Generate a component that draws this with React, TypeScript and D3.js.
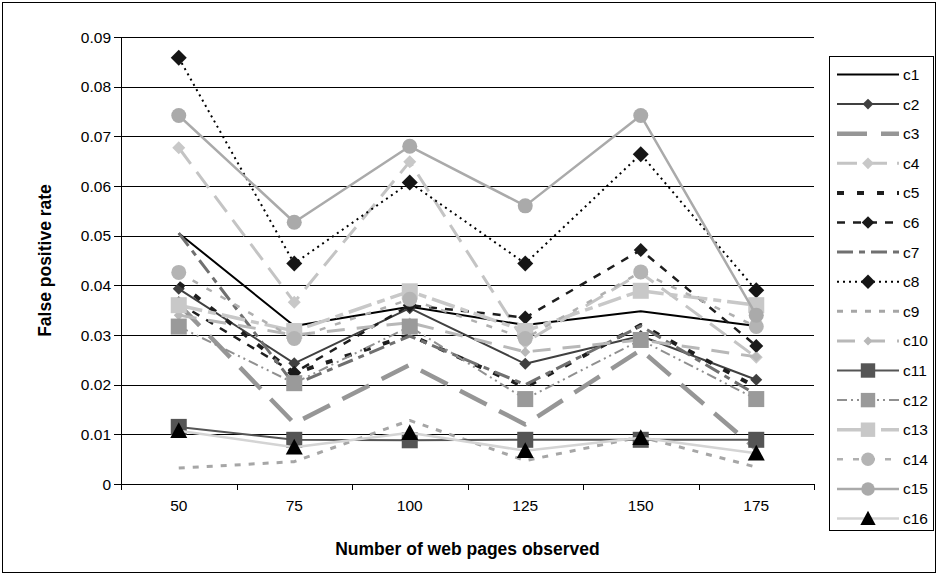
import React from "react";
import * as d3 from "d3";

const categories = ["50", "75", "100", "125", "150", "175"];
const yTicks = [0, 0.01, 0.02, 0.03, 0.04, 0.05, 0.06, 0.07, 0.08, 0.09];
const seriesNames = ["c1","c2","c3","c4","c5","c6","c7","c8","c9","c10","c11","c12","c13","c14","c15","c16"];

const c1 = [0.0505, 0.0318, 0.0357, 0.0320, 0.0348, 0.0318];
const c2 = [0.0393, 0.0243, 0.0354, 0.0242, 0.0298, 0.0210];
const c3 = [0.0362, 0.0122, 0.0240, 0.0120, 0.0270, 0.0070];
const c4 = [0.0677, 0.0366, 0.0649, 0.0285, 0.0425, 0.0255];
const c5 = [0.0405, 0.0223, 0.0300, 0.0195, 0.0320, 0.0195];
const c6 = [0.0364, 0.0224, 0.0360, 0.0335, 0.0471, 0.0278];
const c7 = [0.0505, 0.0200, 0.0298, 0.0200, 0.0318, 0.0180];
const c8 = [0.0858, 0.0444, 0.0607, 0.0444, 0.0664, 0.0390];
const c9 = [0.0032, 0.0045, 0.0128, 0.0047, 0.0095, 0.0034];
const c10 = [0.0340, 0.0300, 0.0325, 0.0266, 0.0290, 0.0256];
const c11 = [0.0115, 0.0089, 0.0088, 0.0089, 0.0089, 0.0089];
const c12 = [0.0317, 0.0203, 0.0317, 0.0171, 0.0290, 0.0171];
const c13 = [0.0360, 0.0308, 0.0388, 0.0308, 0.0389, 0.0360];
const c14 = [0.0426, 0.0293, 0.0372, 0.0293, 0.0427, 0.0317];
const c15 = [0.0742, 0.0527, 0.0680, 0.0560, 0.0742, 0.0340];
const c16 = [0.0107, 0.0074, 0.0103, 0.0067, 0.0093, 0.0062];

const seriesValues = [c1,c2,c3,c4,c5,c6,c7,c8,c9,c10,c11,c12,c13,c14,c15,c16];

type Style = { color: string; width: number; dash?: string; marker?: "diamond" | "square" | "circle" | "triangle"; size?: number; mfill?: string };
const styles: Style[] = [
  { color: "#000", width: 2 },
  { color: "#404040", width: 2, marker: "diamond", size: 6, mfill: "#404040" },
  { color: "#969696", width: 4.5, dash: "30,14" },
  { color: "#c4c4c4", width: 3, dash: "20,10", marker: "diamond", size: 6.5, mfill: "#c8c8c8" },
  { color: "#1e1e1e", width: 4, dash: "7,13" },
  { color: "#1e1e1e", width: 2.5, dash: "8,8", marker: "diamond", size: 7, mfill: "#1a1a1a" },
  { color: "#707070", width: 3, dash: "16,6,6,6" },
  { color: "#000", width: 2, dash: "2,4", marker: "diamond", size: 8, mfill: "#151515" },
  { color: "#a6a6a6", width: 3, dash: "6,8" },
  { color: "#b8b8b8", width: 3, dash: "18,12", marker: "diamond", size: 5, mfill: "#b8b8b8" },
  { color: "#555555", width: 2, marker: "square", size: 8, mfill: "#555555" },
  { color: "#909090", width: 2, dash: "10,4,2,4,2,4", marker: "square", size: 8, mfill: "#9a9a9a" },
  { color: "#c8c8c8", width: 3.5, dash: "24,6,8,6", marker: "square", size: 8, mfill: "#c8c8c8" },
  { color: "#b0b0b0", width: 2.5, dash: "6,10", marker: "circle", size: 7.5, mfill: "#b4b4b4" },
  { color: "#aaaaaa", width: 2.5, marker: "circle", size: 7.5, mfill: "#aaaaaa" },
  { color: "#d4d4d4", width: 2.5, marker: "triangle", size: 8.5, mfill: "#000" },
];

function Marker({ kind, x, y, s, fill }: { kind: string; x: number; y: number; s: number; fill: string }) {
  if (kind === "diamond") {
    return <path d={`M${x},${y - s}L${x + s},${y}L${x},${y + s}L${x - s},${y}Z`} fill={fill} />;
  }
  if (kind === "square") {
    return <rect x={x - s} y={y - s} width={2 * s} height={2 * s} fill={fill} />;
  }
  if (kind === "circle") {
    return <circle cx={x} cy={y} r={s} fill={fill} />;
  }
  return <path d={`M${x},${y - s}L${x + s},${y + s * 0.85}L${x - s},${y + s * 0.85}Z`} fill={fill} />;
}

export default function App() {
  const W = 938, H = 574;
  const left = 121, right = 814, top = 37, bottom = 484;
  const x = d3.scaleBand<string>().domain(categories).range([left, right]).padding(0);
  const y = d3.scaleLinear().domain([0, 0.09]).range([bottom, top]);
  const cx = (c: string) => (x(c) as number) + x.bandwidth() / 2;
  const line = d3.line<number>().x((_, i) => cx(categories[i])).y((v) => y(v));
  const font = "Arial, 'Liberation Sans', sans-serif";

  const legX = 829, legY = 56, legW = 104, legH = 474;
  const rowY = d3.scaleLinear().domain([0, 15]).range([74.5, 518.5]);

  return (
    <svg width={W} height={H} style={{ position: "absolute", left: 0, top: 0, background: "#fff" }} fontFamily={font}>
      <rect x={0} y={0} width={W} height={H} fill="#fff" />
      <rect x={2.5} y={2.5} width={W - 5} height={H - 4} fill="none" stroke="#000" strokeWidth={1} />
      {yTicks.map((t) => (
        <g key={t}>
          <line x1={left - 7} x2={right} y1={Math.round(y(t)) + 0.5} y2={Math.round(y(t)) + 0.5} stroke="#000" strokeWidth={1} />
          <text x={left - 10} y={y(t) + 5.5} textAnchor="end" fontSize={15.5}>{t === 0 ? "0" : t.toFixed(2)}</text>
        </g>
      ))}
      <line x1={left + 0.5} x2={left + 0.5} y1={top} y2={bottom} stroke="#000" strokeWidth={1} />
      {categories.concat(["_end"]).map((c, i) => {
        const xx = i < categories.length ? (x(c) as number) : right;
        return <line key={c} x1={Math.round(xx) + 0.5} x2={Math.round(xx) + 0.5} y1={bottom} y2={bottom + 6} stroke="#000" strokeWidth={1} />;
      })}
      {categories.map((c) => (
        <text key={c} x={cx(c)} y={bottom + 27} textAnchor="middle" fontSize={15.5}>{c}</text>
      ))}
      <text x={(left + right) / 2} y={555} textAnchor="middle" fontSize={17.5} fontWeight="bold">Number of web pages observed</text>
      <text transform={`translate(51,${(top + bottom) / 2}) rotate(-90)`} textAnchor="middle" fontSize={17.5} fontWeight="bold">False positive rate</text>

      {seriesValues.map((vals, si) => {
        const st = styles[si];
        return (
          <g key={si}>
            <path d={line(vals) as string} fill="none" stroke={st.color} strokeWidth={st.width} strokeDasharray={st.dash} strokeLinejoin="round" />
            {st.marker && vals.map((v, i) => (
              <Marker key={i} kind={st.marker as string} x={cx(categories[i])} y={y(v)} s={st.size as number} fill={st.mfill as string} />
            ))}
          </g>
        );
      })}

      <rect x={legX + 0.5} y={legY + 0.5} width={legW} height={legH} fill="#fff" stroke="#000" strokeWidth={1} />
      {seriesNames.map((n, i) => {
        const st = styles[i];
        const ry = rowY(i);
        return (
          <g key={n}>
            <line x1={837} x2={899} y1={ry} y2={ry} stroke={st.color} strokeWidth={st.width} strokeDasharray={st.dash} />
            {st.marker && <Marker kind={st.marker} x={868} y={ry} s={(st.size as number) * 0.9} fill={st.mfill as string} />}
            <text x={903} y={ry + 5.5} fontSize={15.5}>{n}</text>
          </g>
        );
      })}
    </svg>
  );
}
